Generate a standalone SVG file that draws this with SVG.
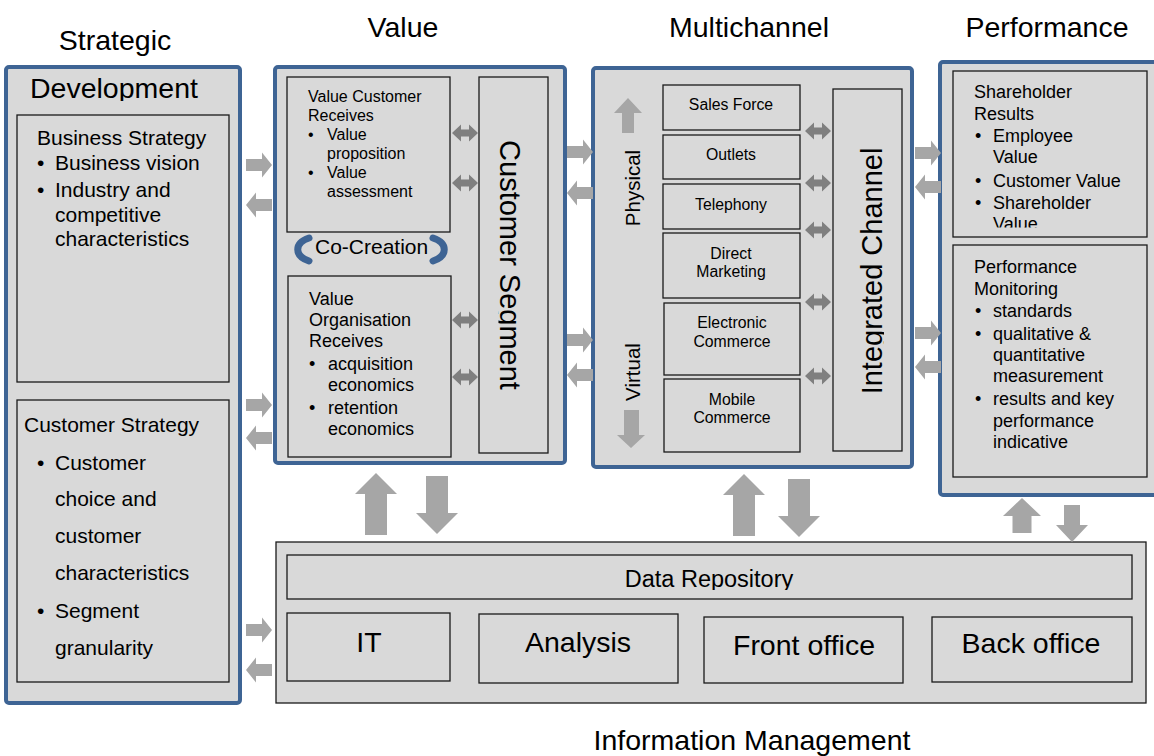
<svg xmlns="http://www.w3.org/2000/svg" width="1154" height="756" viewBox="0 0 1154 756">
<style>
.t{font-family:"Liberation Sans",Arial,sans-serif;fill:#000}
.blue{fill:#D9D9D9;stroke:#3E6494;stroke-width:4}
.box{fill:#D9D9D9;stroke:#1A1A1A;stroke-width:1.3}
.ga{fill:#A6A6A6}
.da{fill:#7F7F7F}
.br{fill:none;stroke:#3E6494;stroke-width:7;stroke-linecap:round}
.ttl{font-size:28.5px}
</style>
<defs>
<path id="ar" d="M0,-6 H16 V-12.5 L26,0 L16,12.5 V6 H0 Z"/>
<path id="al" d="M26,-6 H10 V-12.5 L0,0 L10,12.5 V6 H26 Z"/>
<path id="dbl" d="M0,0 L9,-8.5 V-3.5 H17 V-8.5 L26,0 L17,8.5 V3.5 H9 V8.5 Z"/>
<path id="bu" d="M0,0 L21,21 H11 V62 H-11 V21 H-21 Z"/>
<path id="bd" d="M0,0 L-21,-21 H-11 V-58 H11 V-21 H21 Z"/>
<clipPath id="devClip"><rect x="0" y="0" width="240" height="101"/></clipPath>
<clipPath id="segClip"><rect x="498.5" y="70" width="60" height="390"/></clipPath>
<clipPath id="intClip"><rect x="830" y="80" width="54" height="380"/></clipPath>
<clipPath id="shClip"><rect x="950" y="65" width="200" height="162.5"/></clipPath>
<clipPath id="drClip"><rect x="280" y="550" width="860" height="40"/></clipPath>
</defs>

<text class="t ttl" x="115" y="50" text-anchor="middle">Strategic</text>
<text class="t ttl" x="403" y="37" text-anchor="middle">Value</text>
<text class="t ttl" x="749" y="37" text-anchor="middle">Multichannel</text>
<text class="t ttl" x="1047" y="37" text-anchor="middle">Performance</text>
<text class="t ttl" x="752" y="750" text-anchor="middle">Information Management</text>

<g id="strategic">
<rect class="blue" x="6" y="67" width="234" height="636" rx="3"/>
<text class="t" x="30" y="98" font-size="28.5" clip-path="url(#devClip)">Development</text>
<g id="business-strategy">
<rect class="box" x="17" y="115" width="212" height="267"/>
<g class="t" font-size="21">
<text x="37" y="145">Business Strategy</text>
<text x="37" y="170">•</text><text x="55" y="170">Business vision</text>
<text x="37" y="197">•</text><text x="55" y="197">Industry and</text>
<text x="55" y="222">competitive</text>
<text x="55" y="246">characteristics</text>
</g>
</g>
<g id="customer-strategy">
<rect class="box" x="17" y="400" width="212" height="282"/>
<g class="t" font-size="21">
<text x="24" y="432">Customer Strategy</text>
<text x="37" y="470">•</text><text x="55" y="470">Customer</text>
<text x="55" y="506">choice and</text>
<text x="55" y="543">customer</text>
<text x="55" y="580">characteristics</text>
<text x="37" y="618">•</text><text x="55" y="618">Segment</text>
<text x="55" y="655">granularity</text>
</g>
</g>
</g>

<g id="value">
<rect class="blue" x="275" y="67" width="290" height="396" rx="3"/>
<g id="value-customer">
<rect class="box" x="287" y="77" width="163" height="155"/>
<g class="t" font-size="16">
<text x="308" y="102">Value Customer</text>
<text x="308" y="121">Receives</text>
<text x="308" y="140">•</text><text x="327" y="140">Value</text>
<text x="327" y="159">proposition</text>
<text x="308" y="178">•</text><text x="327" y="178">Value</text>
<text x="327" y="197">assessment</text>
</g>
</g>
<g id="co-creation">
<path class="br" d="M309,238 C294,243 294,256 309,261"/>
<path class="br" d="M433,238 C448,243 448,256 433,261"/>
<text class="t" x="315" y="254" font-size="21">Co-Creation</text>
</g>
<g id="value-organisation">
<rect class="box" x="288" y="276" width="163" height="181"/>
<g class="t" font-size="18">
<text x="309" y="305">Value</text>
<text x="309" y="326">Organisation</text>
<text x="309" y="347">Receives</text>
<text x="309" y="370">•</text><text x="328" y="370">acquisition</text>
<text x="328" y="391">economics</text>
<text x="309" y="414">•</text><text x="328" y="414">retention</text>
<text x="328" y="435">economics</text>
</g>
</g>
<g id="customer-segment">
<rect class="box" x="479" y="77" width="69" height="376"/>
<g clip-path="url(#segClip)">
<text class="t" font-size="29" text-anchor="middle" transform="translate(500,265) rotate(90)">Customer Segment</text>
</g>
</g>
</g>

<g id="multichannel">
<rect class="blue" x="593" y="68" width="319" height="399" rx="3"/>
<text class="t" font-size="20.5" text-anchor="middle" transform="translate(640,188) rotate(-90)">Physical</text>
<text class="t" font-size="20.5" text-anchor="middle" transform="translate(640,372) rotate(-90)">Virtual</text>
<g id="sales-force"><rect class="box" x="663" y="85" width="137" height="45"/><text class="t" x="731" y="110" font-size="15.8" text-anchor="middle">Sales Force</text></g>
<g id="outlets"><rect class="box" x="663" y="135" width="137" height="44"/><text class="t" x="731" y="160" font-size="15.8" text-anchor="middle">Outlets</text></g>
<g id="telephony"><rect class="box" x="663" y="184" width="137" height="45"/><text class="t" x="731" y="210" font-size="15.8" text-anchor="middle">Telephony</text></g>
<g id="direct-marketing"><rect class="box" x="663" y="233" width="137" height="65"/><text class="t" x="731" y="259" font-size="15.8" text-anchor="middle">Direct</text><text class="t" x="731" y="277" font-size="15.8" text-anchor="middle">Marketing</text></g>
<g id="electronic-commerce"><rect class="box" x="664" y="303" width="136" height="72"/><text class="t" x="732" y="328" font-size="15.8" text-anchor="middle">Electronic</text><text class="t" x="732" y="347" font-size="15.8" text-anchor="middle">Commerce</text></g>
<g id="mobile-commerce"><rect class="box" x="664" y="379" width="136" height="73"/><text class="t" x="732" y="405" font-size="15.8" text-anchor="middle">Mobile</text><text class="t" x="732" y="423" font-size="15.8" text-anchor="middle">Commerce</text></g>
<g id="integrated-channel">
<rect class="box" x="833" y="89" width="69" height="362"/>
<g clip-path="url(#intClip)">
<text class="t" font-size="29" text-anchor="middle" transform="translate(882,271) rotate(-90)">Integrated Channel</text>
</g>
</g>
</g>

<g id="performance">
<rect class="blue" x="940" y="62" width="222" height="433" rx="3"/>
<g id="shareholder-results">
<rect class="box" x="953" y="71" width="194" height="166"/>
<g class="t" font-size="18" clip-path="url(#shClip)">
<text x="974" y="98">Shareholder</text>
<text x="974" y="120">Results</text>
<text x="975" y="142">•</text><text x="993" y="142">Employee</text>
<text x="993" y="163">Value</text>
<text x="975" y="187">•</text><text x="993" y="187">Customer Value</text>
<text x="975" y="209">•</text><text x="993" y="209">Shareholder</text>
<text x="993" y="230">Value</text>
</g>
</g>
<g id="performance-monitoring">
<rect class="box" x="953" y="245" width="194" height="232"/>
<g class="t" font-size="18">
<text x="974" y="273">Performance</text>
<text x="974" y="295">Monitoring</text>
<text x="975" y="317">•</text><text x="993" y="317">standards</text>
<text x="975" y="340">•</text><text x="993" y="340">qualitative &amp;</text>
<text x="993" y="361">quantitative</text>
<text x="993" y="382">measurement</text>
<text x="975" y="405">•</text><text x="993" y="405">results and key</text>
<text x="993" y="427">performance</text>
<text x="993" y="448">indicative</text>
</g>
</g>
</g>

<g id="information-management">
<rect class="box" x="276" y="542" width="870" height="161"/>
<g id="data-repository"><rect class="box" x="287" y="555" width="845" height="44"/><text class="t" x="709" y="587" font-size="23.5" text-anchor="middle" clip-path="url(#drClip)">Data Repository</text></g>
<g id="it"><rect class="box" x="287" y="613" width="163" height="68"/><text class="t" x="369" y="652" font-size="28.5" text-anchor="middle">IT</text></g>
<g id="analysis"><rect class="box" x="479" y="614" width="199" height="69"/><text class="t" x="578" y="652" font-size="28.5" text-anchor="middle">Analysis</text></g>
<g id="front-office"><rect class="box" x="704" y="617" width="199" height="66"/><text class="t" x="804" y="655" font-size="28.5" text-anchor="middle">Front office</text></g>
<g id="back-office"><rect class="box" x="932" y="617" width="200" height="65"/><text class="t" x="1031" y="653" font-size="28.5" text-anchor="middle">Back office</text></g>
</g>

<g id="connectors">
<use href="#ar" class="ga" x="246" y="165"/>
<use href="#al" class="ga" x="246" y="205"/>
<use href="#ar" class="ga" x="246" y="405"/>
<use href="#al" class="ga" x="246" y="438"/>
<use href="#ar" class="ga" x="246" y="630"/>
<use href="#al" class="ga" x="246" y="670"/>
<use href="#ar" class="ga" x="567" y="152"/>
<use href="#al" class="ga" x="567" y="193"/>
<use href="#ar" class="ga" x="567" y="340"/>
<use href="#al" class="ga" x="567" y="375"/>
<use href="#ar" class="ga" x="915" y="153"/>
<use href="#al" class="ga" x="915" y="187"/>
<use href="#ar" class="ga" x="915" y="333"/>
<use href="#al" class="ga" x="915" y="367"/>
<use href="#dbl" class="da" x="452" y="133"/>
<use href="#dbl" class="da" x="452" y="183"/>
<use href="#dbl" class="da" x="452" y="320"/>
<use href="#dbl" class="da" x="452" y="377"/>
<use href="#dbl" class="da" x="805" y="131"/>
<use href="#dbl" class="da" x="805" y="183"/>
<use href="#dbl" class="da" x="805" y="230"/>
<use href="#dbl" class="da" x="805" y="302"/>
<use href="#dbl" class="da" x="805" y="376"/>
<path class="ga" d="M628,98 L642,113 H634 V133 H622 V113 H614 Z"/>
<path class="ga" d="M631,448 L617,435 H624 V410 H639 V435 H645 Z"/>
<use href="#bu" class="ga" x="376" y="473"/>
<use href="#bd" class="ga" x="437" y="534"/>
<use href="#bu" class="ga" x="744" y="474"/>
<use href="#bd" class="ga" x="799" y="537"/>
<path class="ga" d="M1022,498 L1041,516 H1031.5 V533 H1012.5 V516 H1003 Z"/>
<path class="ga" d="M1072,542 L1056,525 H1064 V505 H1080 V525 H1088 Z"/>
</g>
</svg>
